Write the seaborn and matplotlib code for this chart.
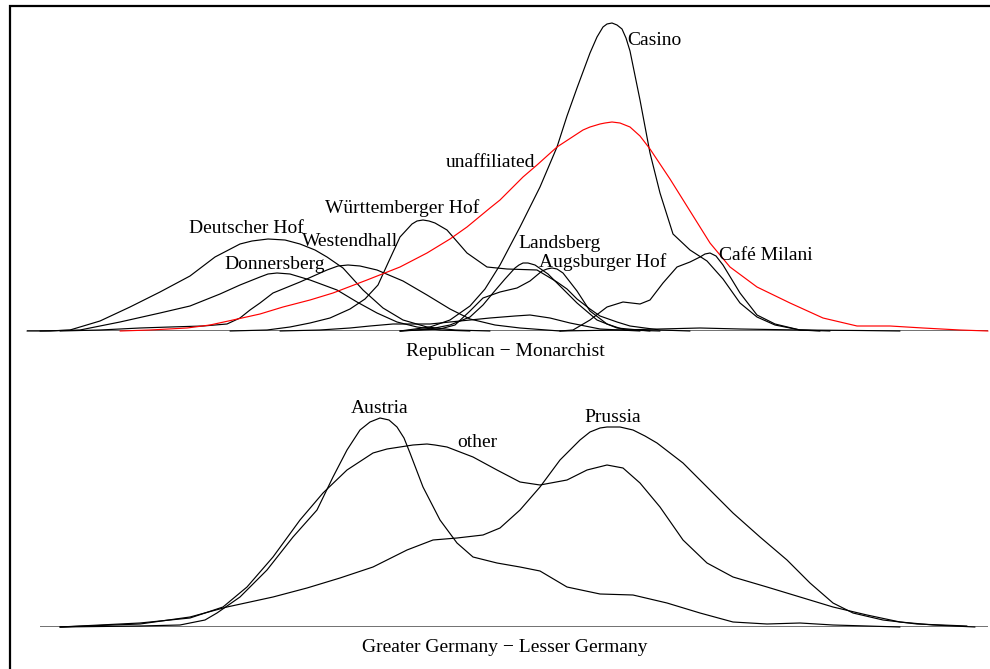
import pandas as pd
import numpy as np
import matplotlib
matplotlib.use('Agg')
import matplotlib.pyplot as plt
from matplotlib.patches import Rectangle
import seaborn as sns

# ---- densities (position, height) ----
# top panel: Republican - Monarchist
deutscher_x = [27, 50, 70, 100, 130, 160, 190, 215, 240, 252, 268, 285, 300, 315, 327, 343, 363, 383, 403, 427, 455, 490]
deutscher_y = [0, 0, 1, 10, 24, 39, 55, 74, 87, 90, 92, 91, 87, 81, 74, 63, 41, 23, 11, 4, 1, 0]

donners_x = [40, 80, 120, 160, 190, 220, 240, 260, 268, 277, 290, 310, 337, 357, 377, 397, 417, 440, 470]
donners_y = [0, 1, 9, 18, 25, 37, 46, 54, 57, 58, 57, 51, 41, 29, 18, 9, 4, 1, 0]

westend_x = [60, 100, 140, 170, 203, 227, 240, 250, 260, 273, 300, 327, 338, 348, 360, 377, 403, 427, 450, 470,
             495, 520, 560]
westend_y = [0, 1, 3, 4, 5, 7, 13, 21, 28, 38, 49, 61, 65, 66, 65, 61, 50, 36, 22, 12,
             6, 3, 0]

wuertt_x = [230, 267, 290, 310, 330, 350, 365, 378, 388, 400, 412, 417, 423, 429, 435, 447, 467, 487, 507, 537,
            557, 567, 577, 590, 600, 617, 630, 660, 690]
wuertt_y = [0, 1, 4, 8, 13, 22, 32, 46, 68, 94, 107, 110, 111, 110, 108, 101, 78, 64, 62, 61,
            49, 42, 32, 22, 15, 9, 5, 1, 0]

landsberg_x = [400, 430, 450, 470, 483, 493, 505, 515, 519, 523, 528, 535, 548, 560, 577, 597, 617, 650]
landsberg_y = [0, 2, 6, 14, 26, 38, 52, 63, 66, 68, 68, 66, 57, 45, 28, 11, 3, 0]

augsburger_x = [400, 440, 455, 470, 483, 500, 517, 530, 542, 547, 552, 557, 563, 577, 590, 607, 625, 660]
augsburger_y = [0, 2, 6, 20, 33, 39, 43, 50, 60, 62, 63, 62, 58, 40, 20, 7, 1, 0]

casino_x = [400, 430, 450, 470, 485, 500, 520, 540, 557, 567, 577, 590, 597, 603, 607, 612, 617, 622, 626,
            630, 640, 650, 660, 673, 690, 707, 723, 740, 757, 775, 800, 820]
casino_y = [0, 4, 11, 25, 42, 66, 104, 144, 184, 215, 243, 278, 294, 304, 307, 308, 306, 302, 293,
            280, 231, 178, 138, 97, 81, 70, 52, 28, 14, 6, 1, 0]

milani_x = [560, 573, 590, 607, 623, 640, 650, 663, 677, 690, 700, 705, 710, 716, 723, 740, 757, 775, 800, 830]
milani_y = [0, 1, 11, 24, 29, 27, 31, 48, 64, 69, 74, 77, 78, 75, 66, 38, 16, 7, 1, 0]

small_a_x = [280, 320, 350, 370, 393, 430, 460, 490, 515, 530, 550, 570, 600, 640]
small_a_y = [0, 1, 3, 5, 7, 7, 10, 13, 15, 16, 13, 8, 2, 0]

small_b_x = [560, 620, 660, 700, 740, 800, 860, 900]
small_b_y = [0, 1, 2, 3, 2, 1, 0.5, 0]

unaff_x = [120, 150, 187, 210, 233, 260, 283, 310, 333, 367, 400, 427, 450, 467, 490, 500, 523, 537,
           557, 583, 590, 600, 605, 612, 620, 630, 640, 650, 670, 690, 710, 730, 757, 790, 823, 857,
           890, 923, 960, 988]
unaff_y = [0, 1, 3, 6, 11, 17, 24, 31, 38, 51, 64, 78, 92, 104, 123, 131, 154, 166,
           184, 201, 204, 207, 208, 209, 208, 204, 195, 182, 152, 120, 88, 64, 44, 28, 13, 5,
           5, 3, 1, 0]

# bottom panel: Greater Germany - Lesser Germany
austria_x = [60, 140, 180, 205, 217, 240, 267, 293, 317, 333, 347, 360, 370, 380, 389, 397, 404, 410, 423,
             440, 457, 473, 497, 520, 540, 567, 600, 633, 667, 700, 733, 767, 800, 833, 867, 900]
austria_y = [0, 1, 2, 7, 14, 30, 57, 90, 117, 150, 177, 197, 205, 209, 207, 200, 189, 174, 140,
             107, 84, 70, 64, 60, 56, 40, 33, 32, 24, 14, 5, 3, 4, 2, 1, 0]

other_x = [60, 140, 190, 223, 247, 273, 300, 323, 347, 373, 387, 400, 413, 427, 435, 447, 473, 497, 520,
           540, 567, 587, 607, 623, 640, 660, 683, 707, 733, 767, 800, 833, 867, 900, 933, 975]
other_y = [0, 4, 9, 20, 40, 70, 107, 134, 157, 174, 178, 180, 182, 183, 182, 180, 170, 157, 145,
           142, 147, 157, 162, 159, 144, 120, 87, 64, 50, 40, 30, 20, 12, 5, 2, 0]

prussia_x = [60, 140, 190, 227, 273, 307, 340, 373, 407, 433, 457, 483, 500, 520, 540, 560, 580, 590,
             600, 607, 613, 620, 633, 645, 657, 683, 707, 733, 760, 787, 810, 833, 853, 883, 917, 967]
prussia_y = [0, 3, 10, 20, 30, 39, 49, 60, 77, 87, 89, 92, 99, 117, 140, 167, 187, 195,
             199, 200, 200, 200, 197, 191, 184, 164, 140, 114, 90, 67, 44, 24, 14, 7, 3, 1]

top_groups = {
    'Deutscher Hof': (deutscher_x, deutscher_y),
    'Donnersberg': (donners_x, donners_y),
    'Westendhall': (westend_x, westend_y),
    'Württemberger Hof': (wuertt_x, wuertt_y),
    'Landsberg': (landsberg_x, landsberg_y),
    'Augsburger Hof': (augsburger_x, augsburger_y),
    'Casino': (casino_x, casino_y),
    'Café Milani': (milani_x, milani_y),
    'small group a': (small_a_x, small_a_y),
    'small group b': (small_b_x, small_b_y),
    'unaffiliated': (unaff_x, unaff_y),
}
bottom_groups = {
    'Austria': (austria_x, austria_y),
    'other': (other_x, other_y),
    'Prussia': (prussia_x, prussia_y),
}

# label placement (centre x, baseline height)
top_labels = {
    'Casino': (654, 286), 'unaffiliated': (491, 164), 'Württemberger Hof': (402, 118),
    'Deutscher Hof': (246, 98), 'Westendhall': (350, 85), 'Donnersberg': (275, 62),
    'Landsberg': (560, 83), 'Augsburger Hof': (603, 64), 'Café Milani': (766, 71),
}
bottom_labels = {'Austria': (380, 214), 'other': (477, 180), 'Prussia': (613, 205)}


def to_frame(groups):
    rows = []
    for name, (xs, ys) in groups.items():
        for x, y in zip(xs, ys):
            rows.append({'group': name, 'pos': x, 'density': y})
    return pd.DataFrame(rows)


sns.set_theme(style='white')
plt.rcParams['font.family'] = ['Liberation Serif', 'DejaVu Serif']

W, H = 990, 669
fig = plt.figure(figsize=(W / 100, H / 100), dpi=100)

# top panel: baseline at y=331, top at y=5
ax_top = fig.add_axes([0, (H - 331) / H, 1, (331 - 5) / H])
# bottom panel: baseline at y=627
ax_bot = fig.add_axes([0, (H - 627) / H, 1, (627 - 380) / H])

for ax, groups, labels, x0, ylim, axis_label in [
        (ax_top, top_groups, top_labels, 27, 326, 'Republican \u2212 Monarchist'),
        (ax_bot, bottom_groups, bottom_labels, 40, 247, 'Greater Germany \u2212 Lesser Germany')]:
    ax.hlines(0, x0, 988, color='#666666', lw=1.3, zorder=1)
    df = to_frame(groups)
    palette = {g: ('red' if g == 'unaffiliated' else 'black') for g in groups}
    sns.lineplot(data=df, x='pos', y='density', hue='group', palette=palette,
                 estimator=None, legend=False, linewidth=0.85, ax=ax, zorder=2)
    for line in ax.lines:
        line.set_clip_on(False)
        line.set_solid_joinstyle('round')
    for name, (lx, ly) in labels.items():
        ax.text(lx, ly, name, ha='center', va='baseline', fontsize=14, color='black')
    ax.text(505, -25, axis_label, ha='center', va='baseline', fontsize=14, color='black')
    ax.set_xlim(0, W)
    ax.set_ylim(0, ylim)
    ax.axis('off')

# outer frame (left and top edges visible)
fig.add_artist(Rectangle((10 / W, -0.2), 1.5, 1.2 - 5.5 / H, transform=fig.transFigure,
                         fill=False, lw=1.6, ec='black'))

fig.savefig('out.png', dpi=100)
